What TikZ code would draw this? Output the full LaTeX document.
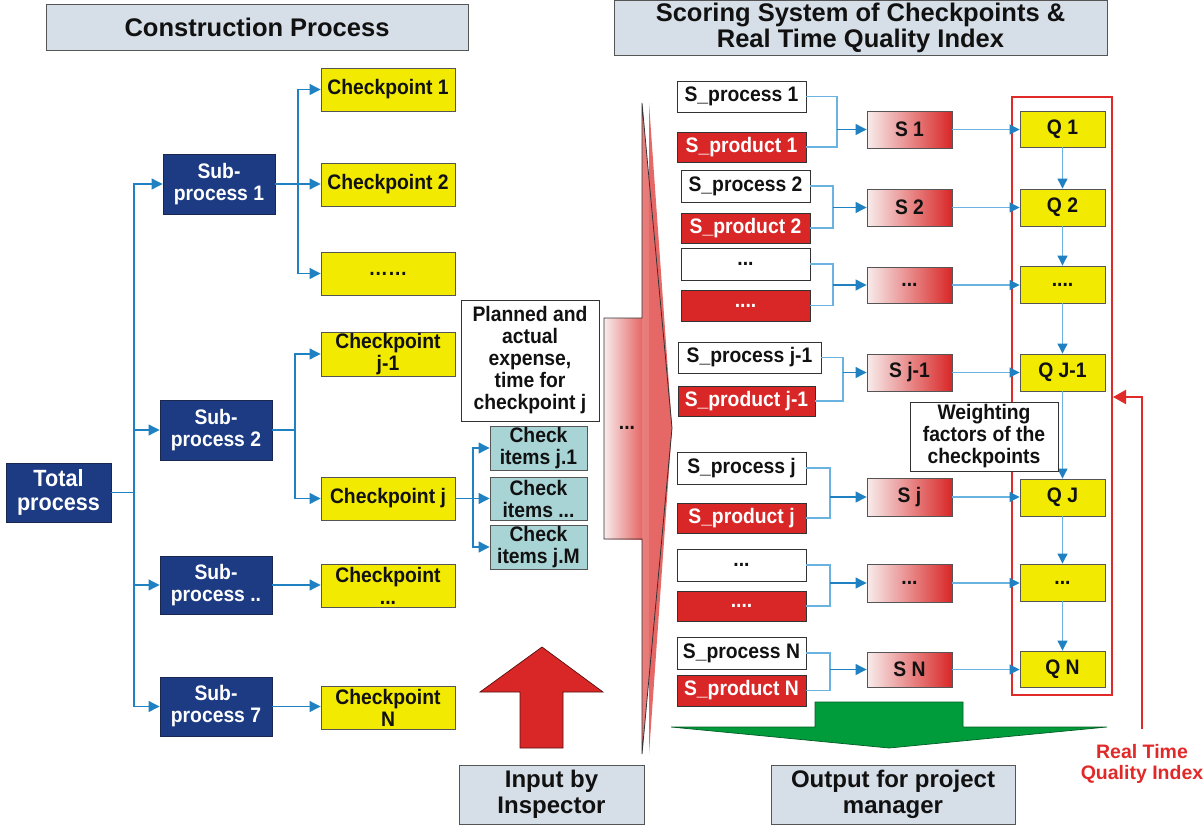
\documentclass[tikz,border=0pt]{standalone}
\usepackage{fontspec}
\setmainfont{Liberation Sans}
\newfontfamily\boxfont[FakeStretch=0.92]{Liberation Sans}
\usetikzlibrary{arrows.meta}

\definecolor{navy}{HTML}{1C3B82}
\definecolor{navyline}{HTML}{1A2850}
\definecolor{cpyellow}{HTML}{F2EA00}
\definecolor{grayline}{HTML}{555555}
\definecolor{darkline}{HTML}{333333}
\definecolor{itemteal}{HTML}{A9D4D5}
\definecolor{hdrgray}{HTML}{D6DEE7}
\definecolor{boxred}{HTML}{D92727}
\definecolor{pinkwhite}{HTML}{F8ECEC}
\definecolor{bluedark}{HTML}{1F80C2}
\definecolor{bluelight}{HTML}{6AB2E0}
\definecolor{framered}{HTML}{E02A2A}
\definecolor{arrowgreen}{HTML}{009B3A}
\definecolor{salmon}{HTML}{E56866}
\definecolor{txt}{HTML}{111111}

\tikzset{
  lbl/.style={font=\boxfont\bfseries\fontsize{21}{22}\selectfont, align=center,
              inner sep=0pt, text=txt, line width=0.9pt},
  navybox/.style={lbl, draw=navyline, fill=navy, text=white},
  ybox/.style={lbl, draw=grayline, fill=cpyellow},
  tbox/.style={lbl, draw=grayline, fill=itemteal},
  wbox/.style={lbl, draw=darkline, fill=white},
  rbox/.style={lbl, draw=darkline, fill=boxred, text=white},
  sbox/.style={lbl, draw=grayline, left color=pinkwhite, right color=boxred},
  hdr/.style={draw=grayline, fill=hdrgray, text=txt, line width=1pt,
              font=\bfseries\fontsize{25.5}{26}\selectfont, align=center, inner sep=0pt},
  plain/.style={draw=bluedark, line width=1.1pt},
  conn/.style={plain, -{Triangle[length=11pt,width=11pt]}},
  lplain/.style={draw=bluelight, line width=1.1pt},
  lconn/.style={lplain, -{Triangle[length=10pt,width=10pt,color=bluedark]}},
}

\begin{document}
\begin{tikzpicture}[x=1pt,y=-1pt]
\useasboundingbox (0,0) rectangle (1203,825);

% ---------- headers ----------
\node[hdr, minimum width=422, minimum height=46] (hdrL) at (257,27) {Construction Process};
\node[hdr, minimum width=493, minimum height=55] (hdrR) at (860.5,28)
  {Scoring System of Checkpoints \&\\Real Time Quality Index};
\node[hdr, font=\bfseries\fontsize{24}{26}\selectfont, minimum width=185, minimum height=59]
  (hdrIn) at (551.5,794.5) {Input by\\Inspector};
\node[hdr, font=\bfseries\fontsize{24}{26}\selectfont, minimum width=244, minimum height=59]
  (hdrOut) at (893,794.5) {Output for project\\manager};

% ---------- input arrow (scores flowing into the scoring system) ----------
\shade[left color=salmon!85!white, right color=salmon]
  (642,103) -- (672,428) -- (642,754) -- cycle;
\fill[salmon] (649,103) -- (672,428) -- (649,754) -- cycle;
\shade[left color=pinkwhite, right color=salmon] (604,318) rectangle (642,539);
\draw[darkline, line width=0.8pt]
  (604,318) -- (642,318) -- (642,103) -- (672,428) -- (642,754)
  -- (642,539) -- (604,539) -- cycle;
\node[lbl] (stemdots) at (627,428) {...};

% red upward arrow
\draw[fill=boxred, draw=black!60!boxred, line width=0.7pt]
  (542,647) -- (603,692) -- (563,692) -- (563,748) -- (520,748) -- (520,692) -- (480,692) -- cycle;

% green output arrow
\draw[fill=arrowgreen, draw=black!40!arrowgreen, line width=0.7pt]
  (815,702) -- (963,702) -- (963,727) -- (1107,727) -- (889,748) -- (671,727) -- (815,727) -- cycle;

% ---------- construction process tree ----------
\node[navybox, font=\boxfont\bfseries\fontsize{23.5}{24}\selectfont,
      minimum width=105, minimum height=59] (tot) at (58.5,492.5) {Total\\process};

\node[navybox, minimum width=112, minimum height=60] (sub1) at (219,184) {Sub-\\process 1};
\node[navybox, minimum width=112, minimum height=60] (sub2) at (216,430) {Sub-\\process 2};
\node[navybox, minimum width=112, minimum height=58] (sub3) at (216,585) {Sub-\\process ..};
\node[navybox, minimum width=112, minimum height=59] (sub7) at (216,706.5) {Sub-\\process 7};

\node[ybox, minimum width=134, minimum height=43] (cp1)  at (388,89.5)  {Checkpoint 1};
\node[ybox, minimum width=134, minimum height=43] (cp2)  at (388,184.5) {Checkpoint 2};
\node[ybox, minimum width=134, minimum height=43] (cp3)  at (388,273.5) {……};
\node[ybox, minimum width=134, minimum height=44] (cpj1) at (388,354)   {Checkpoint\\j-1};
\node[ybox, minimum width=134, minimum height=43] (cpj)  at (388,498.5) {Checkpoint j};
\node[ybox, minimum width=134, minimum height=43] (cpd)  at (388,585.5) {Checkpoint\\...};
\node[ybox, minimum width=134, minimum height=43] (cpN)  at (388,707.5) {Checkpoint\\N};

\node[tbox, minimum width=97, minimum height=44] (ci1) at (538.5,448)   {Check\\items j.1};
\node[tbox, minimum width=97, minimum height=43] (ci2) at (538.5,498.5) {Check\\items ...};
\node[tbox, minimum width=97, minimum height=44] (ci3) at (538.5,547)   {Check\\items j.M};

\node[wbox, minimum width=138, minimum height=121] (plan) at (530,360.5)
  {Planned and\\actual\\expense,\\time for\\checkpoint j};

\coordinate (trunk) at (134,492.5);
\draw[plain] (tot.east) -- (trunk);
\draw[conn] (trunk) |- (sub1);
\draw[conn] (trunk) |- (sub2);
\draw[conn] (trunk) |- (sub3);
\draw[conn] (trunk) |- (sub7);

\coordinate (br1) at (298,184);
\draw[plain] (sub1.east) -- (br1);
\draw[conn] (br1) |- (cp1);
\draw[conn] (br1) -- (cp2.west |- br1);
\draw[conn] (br1) |- (cp3);

\coordinate (br2) at (295,430);
\draw[plain] (sub2.east) -- (br2);
\draw[conn] (br2) |- (cpj1);
\draw[conn] (br2) |- (cpj);

\draw[conn] (sub3.east) -- (cpd.west |- sub3.east);
\draw[conn] (sub7.east) -- (cpN.west |- sub7.east);

\coordinate (br3) at (473,498.5);
\draw[plain] (cpj.east) -- (br3);
\draw[conn] (br3) |- (ci1);
\draw[conn] (br3) -- (ci2);
\draw[conn] (br3) |- (ci3);

% ---------- scoring system ----------
\node[wbox, minimum width=129, minimum height=31] (sp1) at (741.5,96.5) {S\_process 1};
\node[rbox, minimum width=129, minimum height=30] (pr1) at (741.5,147)  {S\_product 1};
\node[wbox, minimum width=129, minimum height=32] (sp2) at (745.5,186)  {S\_process 2};
\node[rbox, minimum width=129, minimum height=30] (pr2) at (745.5,228)  {S\_product 2};
\node[wbox, minimum width=129, minimum height=32] (sp3) at (745.5,264)  {...};
\node[rbox, minimum width=129, minimum height=31] (pr3) at (745.5,305.5) {....};
\node[wbox, minimum width=143, minimum height=31] (sp4) at (749.5,357.5) {S\_process j-1};
\node[rbox, minimum width=137, minimum height=30] (pr4) at (746.5,401)  {S\_product j-1};
\node[wbox, minimum width=129, minimum height=32] (sp5) at (741.5,468)  {S\_process j};
\node[rbox, minimum width=129, minimum height=30] (pr5) at (741.5,518)  {S\_product j};
\node[wbox, minimum width=129, minimum height=32] (sp6) at (741.5,565)  {...};
\node[rbox, minimum width=129, minimum height=30] (pr6) at (741.5,606)  {....};
\node[wbox, minimum width=129, minimum height=32] (sp7) at (741.5,653)  {S\_process N};
\node[rbox, minimum width=129, minimum height=31] (pr7) at (741.5,690.5) {S\_product N};

\node[sbox, minimum width=85, minimum height=37] (s1) at (909.5,129.5) {S 1};
\node[sbox, minimum width=85, minimum height=37] (s2) at (909.5,207.5) {S 2};
\node[sbox, minimum width=85, minimum height=36] (s3) at (909.5,285)   {...};
\node[sbox, minimum width=85, minimum height=37] (s4) at (909.5,372.5) {S j-1};
\node[sbox, minimum width=85, minimum height=38] (s5) at (909.5,497)   {S j};
\node[sbox, minimum width=85, minimum height=38] (s6) at (909.5,583)   {...};
\node[sbox, minimum width=85, minimum height=35] (s7) at (909.5,669.5) {S N};

% pairs joined into one score
\coordinate (j1) at (837,129.5);
\coordinate (j2) at (833,207.5);
\coordinate (j3) at (833,285);
\coordinate (j4) at (843,372.5);
\coordinate (j5) at (830,497);
\coordinate (j6) at (830,583);
\coordinate (j7) at (830,669.5);
\foreach \k in {1,...,7}{
  \draw[lplain] (sp\k.east) -| (j\k) |- (pr\k.east);
  \draw[conn] (j\k) -- (s\k.west |- j\k);
}

% quality index column
\node[draw=framered, line width=2.5pt, minimum width=100, minimum height=598, inner sep=0pt]
  (frame) at (1062,396) {};

\node[ybox, minimum width=85, minimum height=36] (q1) at (1062.5,129)   {Q 1};
\node[ybox, minimum width=85, minimum height=37] (q2) at (1062.5,207.5) {Q 2};
\node[ybox, minimum width=85, minimum height=37] (q3) at (1062.5,284.5) {....};
\node[ybox, minimum width=85, minimum height=37] (q4) at (1062.5,372.5) {Q J-1};
\node[ybox, minimum width=85, minimum height=37] (q5) at (1062.5,497.5) {Q J};
\node[ybox, minimum width=85, minimum height=37] (q6) at (1062.5,582.5) {...};
\node[ybox, minimum width=85, minimum height=36] (q7) at (1062.5,669)   {Q N};

\foreach \k in {1,...,7}{
  \draw[lconn] (s\k.east) -- (q\k.west |- s\k.east);
}
\draw[lconn] (q1.south) -- (q2.north);
\draw[lconn] (q2.south) -- (q3.north);
\draw[lconn] (q3.south) -- (q4.north);
\draw[lconn] (q4.south) -- (q5.north);
\draw[lconn] (q5.south) -- (q6.north);
\draw[lconn] (q6.south) -- (q7.north);

\node[wbox, minimum width=148, minimum height=69] (weight) at (984,436.5)
  {Weighting\\factors of the\\checkpoints};

% feedback of the real time quality index
\coordinate (fbfoot) at (1142,729);
\coordinate (fbin) at (1113,397);
\draw[draw=framered, line width=2.2pt, -{Triangle[length=13pt,width=14pt]}]
  (fbfoot) |- (fbin);
\node[lbl, text=framered, font=\bfseries\fontsize{19.5}{21}\selectfont] (rtqi) at (1142,764)
  {Real Time\\Quality Index};

\end{tikzpicture}
\end{document}
